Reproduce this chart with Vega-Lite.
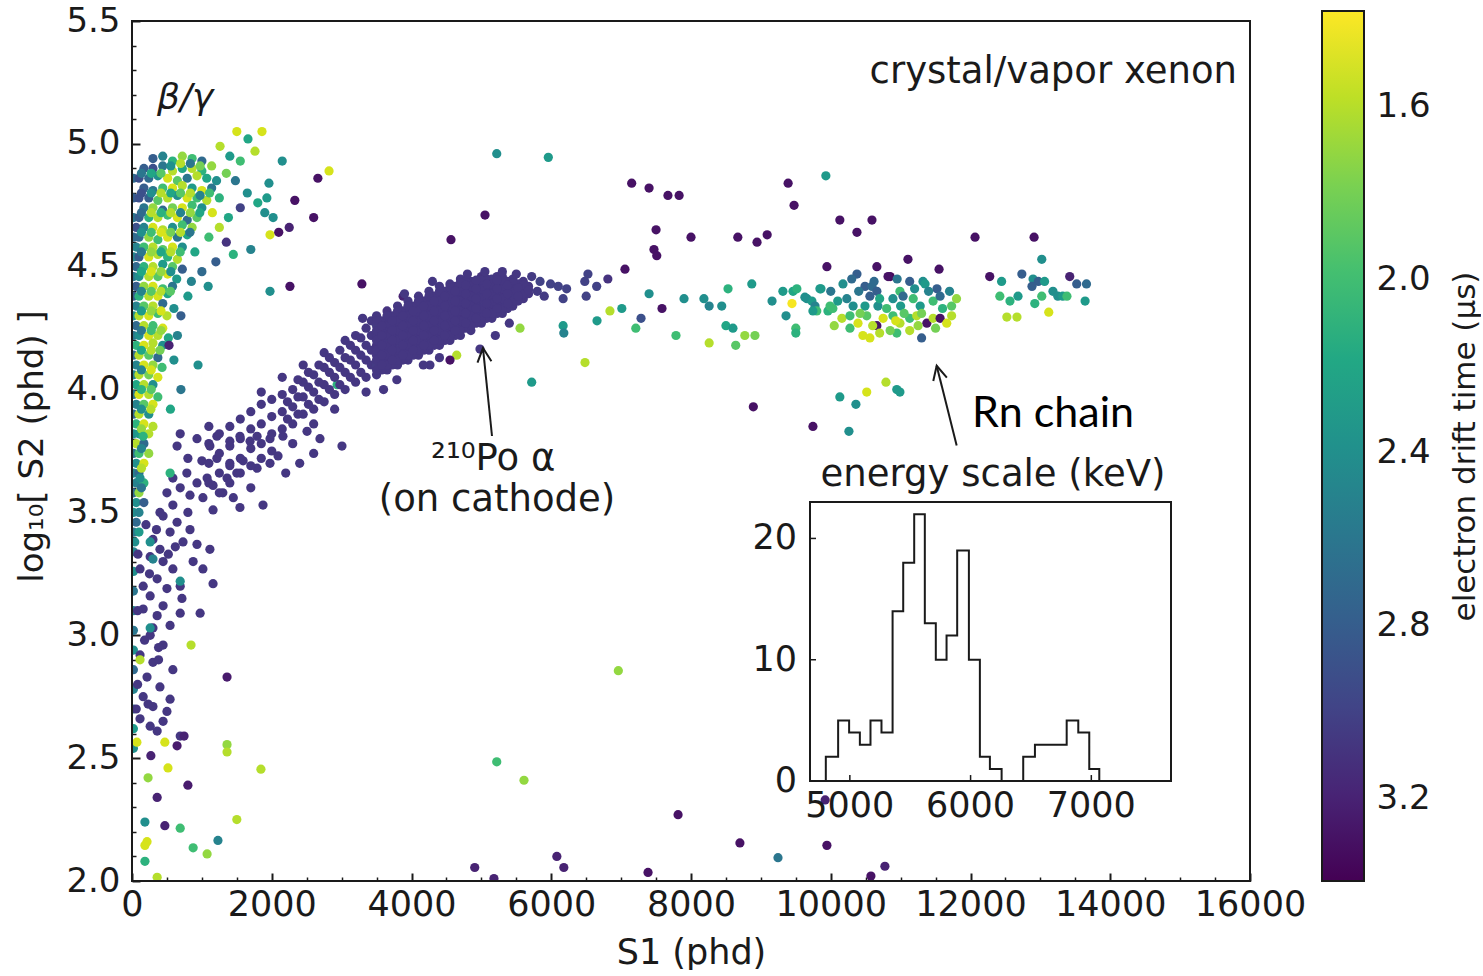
{
"$schema":"https://vega.github.io/schema/vega-lite/v6.json",
"padding":{"left":15,"top":4,"right":0,"bottom":0},
"config":{"view":{"stroke":null},"font":"DejaVu Sans",
"axis":{"grid":false,"domain":false,"labelFont":"DejaVu Sans","titleFont":"DejaVu Sans","labelColor":"#1a1a1a","titleColor":"#1a1a1a","tickColor":"#1a1a1a","titleFontWeight":"normal"}},
"datasets":{
"arrows":[{"name":"po","x":5152,"y":3.811,"hx":5023,"hy":4.169},{"name":"rn","x":11802,"y":3.772,"hx":11516,"hy":4.097}],
"ixt":[{"v":5000},{"v":6000},{"v":7000}],
"iyt":[{"v":0},{"v":10},{"v":20}],
"hist":[{"k":0,"e":4801,"n":0},{"k":1,"e":4801,"n":2},{"k":2,"e":4903,"n":5},{"k":3,"e":4994,"n":4},{"k":4,"e":5083,"n":3},{"k":5,"e":5171,"n":5},{"k":6,"e":5262,"n":4},{"k":7,"e":5354,"n":14},{"k":8,"e":5442,"n":18},{"k":9,"e":5533,"n":22},{"k":10,"e":5621,"n":13},{"k":11,"e":5712,"n":10},{"k":12,"e":5801,"n":12},{"k":13,"e":5889,"n":19},{"k":14,"e":5986,"n":10},{"k":15,"e":6077,"n":2},{"k":16,"e":6160,"n":1},{"k":17,"e":6257,"n":0},{"k":18,"e":6436,"n":2},{"k":19,"e":6533,"n":3},{"k":20,"e":6796,"n":5},{"k":21,"e":6892,"n":4},{"k":22,"e":6983,"n":1},{"k":23,"e":7066,"n":0}],
"pts":[
{"s1":20,"s2":4.86,"t":2.7},{"s1":20,"s2":4.78,"t":2.8},{"s1":20,"s2":4.70,"t":2.6},{"s1":20,"s2":4.62,"t":2.7},{"s1":20,"s2":4.54,"t":2.5},{"s1":20,"s2":4.46,"t":2.6},{"s1":20,"s2":4.38,"t":2.8},{"s1":20,"s2":4.30,"t":2.4},{"s1":20,"s2":4.22,"t":2.6},{"s1":20,"s2":4.14,"t":2.7},{"s1":20,"s2":4.06,"t":2.5},{"s1":20,"s2":3.98,"t":2.6},{"s1":20,"s2":3.90,"t":2.7},{"s1":20,"s2":3.82,"t":2.4},{"s1":20,"s2":3.74,"t":2.6},{"s1":20,"s2":3.66,"t":2.5},{"s1":20,"s2":3.58,"t":2.7},{"s1":20,"s2":3.50,"t":2.4},{"s1":20,"s2":3.42,"t":2.6},{"s1":20,"s2":3.34,"t":2.5},{"s1":20,"s2":3.26,"t":2.4},{"s1":20,"s2":3.18,"t":2.6},{"s1":20,"s2":3.10,"t":2.5},{"s1":20,"s2":3.02,"t":2.6},{"s1":20,"s2":2.94,"t":2.4},{"s1":20,"s2":2.86,"t":2.7},{"s1":20,"s2":2.78,"t":2.5},{"s1":20,"s2":2.70,"t":2.6},{"s1":20,"s2":2.62,"t":2.3},{"s1":20,"s2":2.54,"t":2.4},
{"s1":300,"s2":4.94,"t":2.8},{"s1":440,"s2":4.95,"t":2.5},{"s1":580,"s2":4.93,"t":2.1},{"s1":720,"s2":4.95,"t":1.7},{"s1":860,"s2":4.94,"t":2.0},{"s1":1000,"s2":4.93,"t":2.7},
{"s1":170,"s2":4.90,"t":2.8},{"s1":300,"s2":4.90,"t":2.9},{"s1":440,"s2":4.91,"t":2.6},{"s1":580,"s2":4.89,"t":1.6},{"s1":720,"s2":4.90,"t":2.2},{"s1":860,"s2":4.90,"t":1.6},{"s1":1000,"s2":4.89,"t":2.1},{"s1":1140,"s2":4.91,"t":1.7},
{"s1":100,"s2":4.86,"t":2.9},{"s1":240,"s2":4.86,"t":2.7},{"s1":370,"s2":4.87,"t":2.4},{"s1":510,"s2":4.86,"t":1.5},{"s1":650,"s2":4.85,"t":1.9},{"s1":790,"s2":4.86,"t":2.6},{"s1":930,"s2":4.87,"t":1.6},{"s1":1070,"s2":4.86,"t":2.2},{"s1":1210,"s2":4.85,"t":2.4},
{"s1":170,"s2":4.82,"t":2.8},{"s1":300,"s2":4.81,"t":2.6},{"s1":440,"s2":4.82,"t":2.0},{"s1":580,"s2":4.82,"t":1.5},{"s1":720,"s2":4.83,"t":1.6},{"s1":860,"s2":4.82,"t":2.3},{"s1":1000,"s2":4.81,"t":1.5},{"s1":1140,"s2":4.82,"t":2.6},
{"s1":100,"s2":4.78,"t":2.9},{"s1":240,"s2":4.78,"t":2.8},{"s1":370,"s2":4.77,"t":1.9},{"s1":510,"s2":4.78,"t":1.6},{"s1":650,"s2":4.79,"t":2.4},{"s1":790,"s2":4.78,"t":1.5},{"s1":930,"s2":4.78,"t":2.0},{"s1":1070,"s2":4.77,"t":1.6},{"s1":1250,"s2":4.78,"t":2.1},
{"s1":170,"s2":4.74,"t":2.6},{"s1":300,"s2":4.74,"t":1.7},{"s1":440,"s2":4.73,"t":2.7},{"s1":580,"s2":4.74,"t":1.8},{"s1":720,"s2":4.74,"t":1.5},{"s1":860,"s2":4.75,"t":2.0},{"s1":1000,"s2":4.74,"t":2.4},
{"s1":100,"s2":4.70,"t":2.8},{"s1":240,"s2":4.70,"t":2.1},{"s1":370,"s2":4.70,"t":1.6},{"s1":510,"s2":4.71,"t":2.0},{"s1":650,"s2":4.70,"t":1.5},{"s1":790,"s2":4.69,"t":2.7},{"s1":930,"s2":4.70,"t":1.9},
{"s1":60,"s2":4.66,"t":2.9},{"s1":170,"s2":4.66,"t":2.5},{"s1":300,"s2":4.66,"t":1.5},{"s1":440,"s2":4.65,"t":1.6},{"s1":580,"s2":4.66,"t":2.4},{"s1":720,"s2":4.67,"t":2.0},{"s1":860,"s2":4.66,"t":1.7},
{"s1":100,"s2":4.62,"t":2.7},{"s1":240,"s2":4.62,"t":1.7},{"s1":370,"s2":4.61,"t":2.0},{"s1":510,"s2":4.62,"t":1.5},{"s1":650,"s2":4.62,"t":2.6},{"s1":790,"s2":4.63,"t":2.2},
{"s1":60,"s2":4.58,"t":2.5},{"s1":170,"s2":4.58,"t":2.0},{"s1":300,"s2":4.58,"t":1.6},{"s1":440,"s2":4.57,"t":1.9},{"s1":580,"s2":4.58,"t":1.5},{"s1":720,"s2":4.58,"t":2.4},
{"s1":100,"s2":4.54,"t":2.8},{"s1":240,"s2":4.54,"t":1.5},{"s1":370,"s2":4.55,"t":1.6},{"s1":510,"s2":4.54,"t":2.1},{"s1":650,"s2":4.53,"t":1.6},
{"s1":60,"s2":4.50,"t":2.7},{"s1":170,"s2":4.50,"t":2.1},{"s1":300,"s2":4.50,"t":1.6},{"s1":440,"s2":4.51,"t":2.3},{"s1":580,"s2":4.50,"t":1.9},{"s1":720,"s2":4.49,"t":2.8},
{"s1":100,"s2":4.46,"t":2.4},{"s1":240,"s2":4.46,"t":1.6},{"s1":370,"s2":4.46,"t":1.9},{"s1":510,"s2":4.47,"t":1.5},{"s1":640,"s2":4.45,"t":2.3},
{"s1":60,"s2":4.42,"t":2.8},{"s1":170,"s2":4.42,"t":1.7},{"s1":300,"s2":4.42,"t":1.5},{"s1":440,"s2":4.41,"t":2.0},{"s1":580,"s2":4.42,"t":2.6},
{"s1":100,"s2":4.38,"t":2.1},{"s1":240,"s2":4.38,"t":1.6},{"s1":370,"s2":4.38,"t":1.5},{"s1":510,"s2":4.39,"t":2.2},
{"s1":60,"s2":4.34,"t":2.5},{"s1":170,"s2":4.34,"t":1.9},{"s1":300,"s2":4.34,"t":1.6},{"s1":440,"s2":4.35,"t":2.7},{"s1":600,"s2":4.33,"t":2.4},
{"s1":100,"s2":4.30,"t":1.6},{"s1":240,"s2":4.30,"t":1.5},{"s1":370,"s2":4.31,"t":2.0},{"s1":500,"s2":4.30,"t":1.6},
{"s1":60,"s2":4.26,"t":2.7},{"s1":170,"s2":4.26,"t":1.6},{"s1":300,"s2":4.26,"t":2.0},{"s1":440,"s2":4.25,"t":1.5},
{"s1":100,"s2":4.22,"t":2.4},{"s1":240,"s2":4.22,"t":1.5},{"s1":370,"s2":4.22,"t":1.6},{"s1":520,"s2":4.21,"t":2.2},
{"s1":60,"s2":4.18,"t":2.1},{"s1":170,"s2":4.18,"t":1.5},{"s1":300,"s2":4.19,"t":1.6},{"s1":440,"s2":4.18,"t":2.4},
{"s1":100,"s2":4.14,"t":1.6},{"s1":240,"s2":4.14,"t":1.9},{"s1":370,"s2":4.13,"t":2.7},
{"s1":60,"s2":4.10,"t":2.5},{"s1":170,"s2":4.10,"t":1.5},{"s1":300,"s2":4.10,"t":1.7},{"s1":430,"s2":4.09,"t":2.0},
{"s1":100,"s2":4.06,"t":1.6},{"s1":240,"s2":4.06,"t":1.8},{"s1":370,"s2":4.05,"t":1.5},
{"s1":60,"s2":4.02,"t":2.2},{"s1":170,"s2":4.02,"t":1.6},{"s1":300,"s2":4.02,"t":2.4},
{"s1":100,"s2":3.98,"t":1.5},{"s1":240,"s2":3.98,"t":1.6},{"s1":370,"s2":3.97,"t":2.0},
{"s1":60,"s2":3.94,"t":2.5},{"s1":170,"s2":3.94,"t":1.9},{"s1":300,"s2":3.94,"t":1.5},
{"s1":100,"s2":3.90,"t":1.6},{"s1":240,"s2":3.90,"t":2.4},
{"s1":60,"s2":3.86,"t":2.1},{"s1":170,"s2":3.86,"t":1.5},{"s1":300,"s2":3.85,"t":1.6},
{"s1":100,"s2":3.82,"t":2.3},{"s1":240,"s2":3.82,"t":1.6},
{"s1":60,"s2":3.78,"t":1.6},{"s1":170,"s2":3.78,"t":2.7},
{"s1":100,"s2":3.74,"t":2.0},{"s1":240,"s2":3.74,"t":1.7},
{"s1":60,"s2":3.70,"t":2.4},{"s1":170,"s2":3.70,"t":1.5},
{"s1":100,"s2":3.66,"t":2.7},{"s1":60,"s2":3.62,"t":2.5},{"s1":170,"s2":3.62,"t":2.1},{"s1":100,"s2":3.58,"t":1.7},{"s1":60,"s2":3.54,"t":2.4},{"s1":170,"s2":3.54,"t":2.8},{"s1":100,"s2":3.50,"t":2.5},{"s1":60,"s2":3.46,"t":2.7},{"s1":100,"s2":3.42,"t":2.3},{"s1":40,"s2":3.38,"t":2.4},
{"s1":135,"s2":4.88,"t":2.6},{"s1":275,"s2":4.88,"t":2.2},{"s1":415,"s2":4.88,"t":1.9},{"s1":555,"s2":4.91,"t":2.4},{"s1":695,"s2":4.92,"t":1.6},{"s1":835,"s2":4.92,"t":2.6},{"s1":975,"s2":4.91,"t":1.8},
{"s1":135,"s2":4.80,"t":2.9},{"s1":275,"s2":4.80,"t":2.4},{"s1":415,"s2":4.80,"t":1.6},{"s1":555,"s2":4.80,"t":2.2},{"s1":695,"s2":4.80,"t":1.9},{"s1":835,"s2":4.80,"t":1.6},{"s1":975,"s2":4.79,"t":2.5},{"s1":1110,"s2":4.80,"t":2.0},
{"s1":135,"s2":4.72,"t":2.7},{"s1":275,"s2":4.72,"t":1.6},{"s1":415,"s2":4.72,"t":2.1},{"s1":555,"s2":4.72,"t":1.6},{"s1":695,"s2":4.72,"t":2.5},{"s1":835,"s2":4.72,"t":1.7},{"s1":970,"s2":4.72,"t":2.2},
{"s1":135,"s2":4.64,"t":2.4},{"s1":275,"s2":4.64,"t":2.0},{"s1":415,"s2":4.64,"t":1.5},{"s1":555,"s2":4.64,"t":1.8},{"s1":695,"s2":4.64,"t":1.6},{"s1":830,"s2":4.64,"t":2.6},
{"s1":135,"s2":4.56,"t":2.6},{"s1":275,"s2":4.56,"t":1.7},{"s1":415,"s2":4.56,"t":2.2},{"s1":555,"s2":4.56,"t":1.6},{"s1":690,"s2":4.56,"t":2.0},
{"s1":135,"s2":4.48,"t":2.2},{"s1":275,"s2":4.48,"t":1.5},{"s1":415,"s2":4.48,"t":1.7},{"s1":555,"s2":4.48,"t":2.4},
{"s1":135,"s2":4.40,"t":2.5},{"s1":275,"s2":4.40,"t":1.9},{"s1":415,"s2":4.40,"t":1.6},{"s1":550,"s2":4.40,"t":1.9},
{"s1":135,"s2":4.32,"t":2.3},{"s1":275,"s2":4.32,"t":1.7},{"s1":415,"s2":4.32,"t":1.5},
{"s1":135,"s2":4.24,"t":2.6},{"s1":275,"s2":4.24,"t":2.0},{"s1":415,"s2":4.24,"t":1.7},
{"s1":135,"s2":4.16,"t":2.2},{"s1":275,"s2":4.16,"t":1.6},{"s1":400,"s2":4.16,"t":1.8},
{"s1":135,"s2":4.08,"t":2.5},{"s1":275,"s2":4.08,"t":1.5},{"s1":135,"s2":4.00,"t":2.1},{"s1":275,"s2":4.00,"t":1.9},{"s1":135,"s2":3.92,"t":2.4},{"s1":270,"s2":3.92,"t":1.6},{"s1":135,"s2":3.84,"t":1.7},{"s1":135,"s2":3.76,"t":2.5},{"s1":135,"s2":3.68,"t":1.6},{"s1":135,"s2":3.60,"t":2.6},
{"s1":1260,"s2":4.99,"t":1.6},{"s1":1500,"s2":5.05,"t":1.5},{"s1":1860,"s2":5.05,"t":1.5},{"s1":1660,"s2":5.02,"t":2.2},{"s1":1760,"s2":4.97,"t":1.6},{"s1":1400,"s2":4.95,"t":2.3},{"s1":1550,"s2":4.93,"t":2.0},{"s1":1350,"s2":4.88,"t":1.8},{"s1":1480,"s2":4.85,"t":2.6},{"s1":1650,"s2":4.80,"t":2.4},{"s1":1800,"s2":4.76,"t":2.2},{"s1":1550,"s2":4.74,"t":3.0},{"s1":1380,"s2":4.70,"t":2.2},{"s1":1250,"s2":4.66,"t":1.6},{"s1":1150,"s2":4.72,"t":1.5},{"s1":1100,"s2":4.62,"t":2.0},{"s1":1350,"s2":4.60,"t":3.1},{"s1":1450,"s2":4.55,"t":2.1},{"s1":1700,"s2":4.57,"t":2.5},{"s1":1200,"s2":4.52,"t":2.8},{"s1":900,"s2":4.56,"t":2.2},{"s1":1000,"s2":4.48,"t":2.7},{"s1":850,"s2":4.44,"t":2.5},{"s1":800,"s2":4.38,"t":2.3},{"s1":700,"s2":4.30,"t":2.8},{"s1":650,"s2":4.22,"t":2.5},{"s1":600,"s2":4.12,"t":2.4},{"s1":700,"s2":4.00,"t":2.6},{"s1":550,"s2":3.92,"t":2.2},
{"s1":2660,"s2":4.86,"t":3.3},{"s1":2820,"s2":4.89,"t":1.5},{"s1":2330,"s2":4.77,"t":3.3},{"s1":2600,"s2":4.70,"t":3.3},{"s1":2150,"s2":4.93,"t":2.4},{"s1":1960,"s2":4.84,"t":2.4},{"s1":1975,"s2":4.63,"t":1.5},{"s1":2100,"s2":4.64,"t":3.3},{"s1":2250,"s2":4.66,"t":3.2},{"s1":2020,"s2":4.70,"t":2.4},{"s1":1930,"s2":4.78,"t":2.3},{"s1":1900,"s2":4.72,"t":2.4},{"s1":2260,"s2":4.42,"t":3.3},{"s1":1975,"s2":4.40,"t":2.4},{"s1":3290,"s2":4.43,"t":3.3},{"s1":4565,"s2":4.61,"t":3.3},{"s1":5052,"s2":4.71,"t":3.3},{"s1":5220,"s2":4.96,"t":2.4},{"s1":5958,"s2":4.945,"t":2.3},{"s1":945,"s2":4.10,"t":2.4},{"s1":530,"s2":4.18,"t":3.2},{"s1":3880,"s2":4.38,"t":3.2},{"s1":1090,"s2":4.42,"t":2.4},{"s1":2935,"s2":4.02,"t":2.1},
{"s1":690,"s2":3.82,"t":3.07},{"s1":645,"s2":3.77,"t":3.07},{"s1":930,"s2":3.80,"t":3.07},{"s1":1115,"s2":3.77,"t":3.07},{"s1":1215,"s2":3.81,"t":3.07},{"s1":1400,"s2":3.79,"t":3.07},{"s1":1545,"s2":3.81,"t":3.07},{"s1":1690,"s2":3.79,"t":3.07},{"s1":1790,"s2":3.81,"t":3.07},{"s1":1975,"s2":3.80,"t":3.07},{"s1":2160,"s2":3.81,"t":3.07},{"s1":2300,"s2":3.78,"t":3.07},{"s1":2505,"s2":3.83,"t":3.07},{"s1":2690,"s2":3.80,"t":3.07},{"s1":3005,"s2":3.77,"t":3.07},
{"s1":800,"s2":3.72,"t":3.07},{"s1":1000,"s2":3.71,"t":3.07},{"s1":1215,"s2":3.72,"t":3.07},{"s1":1400,"s2":3.69,"t":3.07},{"s1":1590,"s2":3.71,"t":3.07},{"s1":1790,"s2":3.68,"t":3.07},{"s1":1975,"s2":3.70,"t":3.07},{"s1":2090,"s2":3.73,"t":3.07},
{"s1":585,"s2":3.64,"t":3.07},{"s1":785,"s2":3.66,"t":3.07},{"s1":930,"s2":3.62,"t":3.07},{"s1":1075,"s2":3.64,"t":3.07},{"s1":1160,"s2":3.61,"t":3.07},{"s1":1360,"s2":3.64,"t":3.07},{"s1":1500,"s2":3.66,"t":3.07},{"s1":1545,"s2":3.52,"t":3.07},{"s1":1875,"s2":3.53,"t":3.07},{"s1":1015,"s2":3.56,"t":3.07},{"s1":1160,"s2":3.51,"t":3.07},{"s1":830,"s2":3.57,"t":3.07},{"s1":690,"s2":3.60,"t":3.07},{"s1":500,"s2":3.58,"t":3.07},{"s1":585,"s2":3.53,"t":3.07},{"s1":400,"s2":3.50,"t":3.07},
{"s1":445,"s2":3.485,"t":3.07},{"s1":645,"s2":3.46,"t":3.07},{"s1":830,"s2":3.43,"t":3.07},{"s1":545,"s2":3.42,"t":3.07},{"s1":730,"s2":3.38,"t":3.07},{"s1":930,"s2":3.37,"t":3.07},{"s1":1115,"s2":3.35,"t":3.07},{"s1":1160,"s2":3.21,"t":3.07},{"s1":975,"s2":3.09,"t":3.07},{"s1":690,"s2":3.20,"t":3.07},{"s1":445,"s2":3.30,"t":3.07},{"s1":260,"s2":3.32,"t":3.07},{"s1":585,"s2":3.27,"t":3.07},{"s1":360,"s2":3.23,"t":3.07},{"s1":500,"s2":3.19,"t":3.07},{"s1":875,"s2":3.30,"t":3.07},{"s1":715,"s2":3.15,"t":3.07},{"s1":445,"s2":3.12,"t":3.07},{"s1":260,"s2":3.16,"t":3.07},{"s1":160,"s2":3.20,"t":3.07},{"s1":115,"s2":3.27,"t":3.07},{"s1":300,"s2":3.39,"t":3.07},{"s1":85,"s2":3.33,"t":3.07},{"s1":400,"s2":3.35,"t":3.07},{"s1":1015,"s2":3.27,"t":3.07},
{"s1":160,"s2":3.107,"t":3.07},{"s1":360,"s2":3.08,"t":3.07},{"s1":545,"s2":3.04,"t":3.07},{"s1":260,"s2":3.0,"t":3.07},{"s1":445,"s2":2.96,"t":3.07},{"s1":115,"s2":2.92,"t":3.07},{"s1":300,"s2":2.89,"t":3.07},{"s1":585,"s2":2.86,"t":3.07},{"s1":215,"s2":2.83,"t":3.07},{"s1":400,"s2":2.79,"t":3.07},{"s1":160,"s2":2.75,"t":3.07},{"s1":300,"s2":2.71,"t":3.07},{"s1":500,"s2":2.69,"t":3.07},{"s1":115,"s2":2.66,"t":3.07},{"s1":260,"s2":2.63,"t":3.07},{"s1":445,"s2":2.65,"t":3.07},{"s1":690,"s2":2.59,"t":3.07},{"s1":360,"s2":2.61,"t":3.07},{"s1":545,"s2":2.74,"t":3.07},{"s1":690,"s2":3.09,"t":3.07},{"s1":300,"s2":3.03,"t":3.07},
{"s1":200,"s2":3.45,"t":3.07},{"s1":350,"s2":3.43,"t":3.07},{"s1":250,"s2":3.25,"t":3.07},{"s1":80,"s2":3.10,"t":3.07},{"s1":180,"s2":2.98,"t":3.07},{"s1":380,"s2":2.90,"t":3.07},{"s1":80,"s2":2.80,"t":3.07},{"s1":230,"s2":2.72,"t":3.07},{"s1":60,"s2":2.70,"t":3.07},{"s1":380,"s2":2.95,"t":3.07},{"s1":520,"s2":3.33,"t":3.07},{"s1":620,"s2":3.36,"t":3.07},{"s1":800,"s2":3.50,"t":3.07},{"s1":1300,"s2":3.58,"t":3.07},{"s1":1700,"s2":3.60,"t":3.07},{"s1":1450,"s2":3.56,"t":3.07},{"s1":2400,"s2":3.70,"t":3.07},{"s1":2600,"s2":3.74,"t":3.07},{"s1":2200,"s2":3.66,"t":3.07},
{"s1":1360,"s2":2.83,"t":3.25},{"s1":645,"s2":2.55,"t":3.25},{"s1":745,"s2":2.59,"t":3.2},{"s1":270,"s2":2.51,"t":3.2},{"s1":800,"s2":2.39,"t":3.25},{"s1":360,"s2":2.34,"t":3.2},{"s1":470,"s2":2.225,"t":3.2},
{"s1":160,"s2":3.81,"t":2.1},{"s1":115,"s2":3.64,"t":2.4},{"s1":260,"s2":3.38,"t":2.4},{"s1":300,"s2":3.31,"t":2.5},{"s1":260,"s2":3.03,"t":2.4},{"s1":115,"s2":2.90,"t":1.6},{"s1":70,"s2":2.565,"t":1.5},{"s1":690,"s2":3.22,"t":2.4},{"s1":545,"s2":3.66,"t":2.1},
{"s1":1100,"s2":3.62,"t":3.07},{"s1":1100,"s2":3.70,"t":3.07},{"s1":1100,"s2":3.78,"t":3.07},{"s1":1100,"s2":3.85,"t":3.07},
{"s1":1250,"s2":3.66,"t":3.07},{"s1":1250,"s2":3.74,"t":3.07},{"s1":1250,"s2":3.82,"t":3.07},{"s1":1250,"s2":3.58,"t":3.07},
{"s1":1400,"s2":3.70,"t":3.07},{"s1":1400,"s2":3.77,"t":3.07},{"s1":1400,"s2":3.85,"t":3.07},{"s1":1400,"s2":3.62,"t":3.07},
{"s1":1550,"s2":3.72,"t":3.07},{"s1":1550,"s2":3.80,"t":3.07},{"s1":1550,"s2":3.88,"t":3.07},{"s1":1550,"s2":3.66,"t":3.07},
{"s1":1700,"s2":3.76,"t":3.07},{"s1":1700,"s2":3.84,"t":3.07},{"s1":1700,"s2":3.91,"t":3.07},{"s1":1700,"s2":3.69,"t":3.07},
{"s1":1850,"s2":3.78,"t":3.07},{"s1":1850,"s2":3.86,"t":3.07},{"s1":1850,"s2":3.94,"t":3.07},{"s1":1850,"s2":3.72,"t":3.07},{"s1":1850,"s2":3.99,"t":3.07},
{"s1":2000,"s2":3.82,"t":3.07},{"s1":2000,"s2":3.89,"t":3.07},{"s1":2000,"s2":3.96,"t":3.07},{"s1":2000,"s2":3.75,"t":3.07},
{"s1":2150,"s2":3.84,"t":3.07},{"s1":2150,"s2":3.91,"t":3.07},{"s1":2150,"s2":3.98,"t":3.07},{"s1":2150,"s2":4.05,"t":3.07},
{"s1":2300,"s2":3.86,"t":3.07},{"s1":2300,"s2":3.93,"t":3.07},{"s1":2300,"s2":4.00,"t":3.07},
{"s1":2450,"s2":3.90,"t":3.07},{"s1":2450,"s2":3.97,"t":3.07},{"s1":2450,"s2":4.03,"t":3.07},{"s1":2450,"s2":4.10,"t":3.07},
{"s1":2600,"s2":3.92,"t":3.07},{"s1":2600,"s2":3.99,"t":3.07},{"s1":2600,"s2":4.06,"t":3.07},{"s1":2600,"s2":3.86,"t":3.07},
{"s1":2750,"s2":3.95,"t":3.07},{"s1":2750,"s2":4.02,"t":3.07},{"s1":2750,"s2":4.09,"t":3.07},{"s1":2750,"s2":4.15,"t":3.07},
{"s1":2900,"s2":3.98,"t":3.07},{"s1":2900,"s2":4.05,"t":3.07},{"s1":2900,"s2":4.11,"t":3.07},{"s1":2900,"s2":3.92,"t":3.07},
{"s1":3050,"s2":4.00,"t":3.07},{"s1":3050,"s2":4.07,"t":3.07},{"s1":3050,"s2":4.13,"t":3.07},{"s1":3050,"s2":4.20,"t":3.07},
{"s1":3200,"s2":4.03,"t":3.07},{"s1":3200,"s2":4.10,"t":3.07},{"s1":3200,"s2":4.16,"t":3.07},{"s1":3200,"s2":4.22,"t":3.07},
{"s1":3350,"s2":4.05,"t":3.07},{"s1":3350,"s2":4.12,"t":3.07},{"s1":3350,"s2":4.18,"t":3.07},{"s1":3350,"s2":4.25,"t":3.07},{"s1":3350,"s2":3.99,"t":3.07},
{"s1":2225,"s2":3.88,"t":3.07},{"s1":2225,"s2":3.95,"t":3.07},{"s1":2375,"s2":3.90,"t":3.07},{"s1":2375,"s2":3.97,"t":3.07},{"s1":2375,"s2":4.04,"t":3.07},{"s1":2525,"s2":3.94,"t":3.07},{"s1":2525,"s2":4.01,"t":3.07},{"s1":2525,"s2":4.07,"t":3.07},{"s1":2675,"s2":3.96,"t":3.07},{"s1":2675,"s2":4.03,"t":3.07},{"s1":2675,"s2":4.10,"t":3.07},{"s1":2825,"s2":4.00,"t":3.07},{"s1":2825,"s2":4.07,"t":3.07},{"s1":2825,"s2":4.13,"t":3.07},{"s1":2975,"s2":4.02,"t":3.07},{"s1":2975,"s2":4.09,"t":3.07},{"s1":2975,"s2":4.16,"t":3.07},{"s1":3125,"s2":4.05,"t":3.07},{"s1":3125,"s2":4.12,"t":3.07},{"s1":3125,"s2":4.18,"t":3.07},{"s1":3275,"s2":4.07,"t":3.07},{"s1":3275,"s2":4.14,"t":3.07},{"s1":3275,"s2":4.21,"t":3.07},{"s1":3425,"s2":4.10,"t":3.07},{"s1":3425,"s2":4.16,"t":3.07},{"s1":3425,"s2":4.22,"t":3.07},{"s1":3425,"s2":4.28,"t":3.07},
{"s1":3500,"s2":4.06,"t":3.07},{"s1":3500,"s2":4.10,"t":3.05},{"s1":3500,"s2":4.14,"t":3.07},{"s1":3500,"s2":4.18,"t":3.09},{"s1":3500,"s2":4.22,"t":3.07},{"s1":3500,"s2":4.26,"t":3.05},{"s1":3500,"s2":4.30,"t":3.07},
{"s1":3650,"s2":4.08,"t":3.07},{"s1":3650,"s2":4.12,"t":3.09},{"s1":3650,"s2":4.16,"t":3.07},{"s1":3650,"s2":4.20,"t":3.05},{"s1":3650,"s2":4.24,"t":3.07},{"s1":3650,"s2":4.28,"t":3.07},{"s1":3650,"s2":4.32,"t":3.09},
{"s1":3800,"s2":4.10,"t":3.07},{"s1":3800,"s2":4.14,"t":3.07},{"s1":3800,"s2":4.18,"t":3.05},{"s1":3800,"s2":4.22,"t":3.07},{"s1":3800,"s2":4.26,"t":3.09},{"s1":3800,"s2":4.30,"t":3.07},{"s1":3800,"s2":4.34,"t":3.07},
{"s1":3950,"s2":4.12,"t":3.07},{"s1":3950,"s2":4.16,"t":3.09},{"s1":3950,"s2":4.20,"t":3.07},{"s1":3950,"s2":4.24,"t":3.07},{"s1":3950,"s2":4.28,"t":3.05},{"s1":3950,"s2":4.32,"t":3.07},{"s1":3950,"s2":4.36,"t":3.07},
{"s1":4100,"s2":4.14,"t":3.07},{"s1":4100,"s2":4.18,"t":3.07},{"s1":4100,"s2":4.22,"t":3.09},{"s1":4100,"s2":4.26,"t":3.07},{"s1":4100,"s2":4.30,"t":3.07},{"s1":4100,"s2":4.34,"t":3.05},{"s1":4100,"s2":4.38,"t":3.07},
{"s1":4250,"s2":4.16,"t":3.07},{"s1":4250,"s2":4.20,"t":3.05},{"s1":4250,"s2":4.24,"t":3.07},{"s1":4250,"s2":4.28,"t":3.07},{"s1":4250,"s2":4.32,"t":3.09},{"s1":4250,"s2":4.36,"t":3.07},{"s1":4250,"s2":4.40,"t":3.07},
{"s1":4400,"s2":4.18,"t":3.07},{"s1":4400,"s2":4.22,"t":3.07},{"s1":4400,"s2":4.26,"t":3.05},{"s1":4400,"s2":4.30,"t":3.07},{"s1":4400,"s2":4.34,"t":3.07},{"s1":4400,"s2":4.38,"t":3.09},{"s1":4400,"s2":4.42,"t":3.07},
{"s1":4550,"s2":4.20,"t":3.07},{"s1":4550,"s2":4.24,"t":3.09},{"s1":4550,"s2":4.28,"t":3.07},{"s1":4550,"s2":4.32,"t":3.07},{"s1":4550,"s2":4.36,"t":3.05},{"s1":4550,"s2":4.40,"t":3.07},{"s1":4550,"s2":4.43,"t":3.07},
{"s1":4700,"s2":4.22,"t":3.07},{"s1":4700,"s2":4.26,"t":3.07},{"s1":4700,"s2":4.30,"t":3.09},{"s1":4700,"s2":4.34,"t":3.07},{"s1":4700,"s2":4.38,"t":3.07},{"s1":4700,"s2":4.42,"t":3.05},{"s1":4700,"s2":4.45,"t":3.07},
{"s1":4850,"s2":4.24,"t":3.07},{"s1":4850,"s2":4.28,"t":3.05},{"s1":4850,"s2":4.32,"t":3.07},{"s1":4850,"s2":4.36,"t":3.07},{"s1":4850,"s2":4.40,"t":3.09},{"s1":4850,"s2":4.44,"t":3.07},
{"s1":5000,"s2":4.27,"t":3.07},{"s1":5000,"s2":4.31,"t":3.07},{"s1":5000,"s2":4.35,"t":3.05},{"s1":5000,"s2":4.39,"t":3.07},{"s1":5000,"s2":4.43,"t":3.07},{"s1":5000,"s2":4.46,"t":3.09},
{"s1":5150,"s2":4.29,"t":3.07},{"s1":5150,"s2":4.33,"t":3.09},{"s1":5150,"s2":4.37,"t":3.07},{"s1":5150,"s2":4.41,"t":3.07},{"s1":5150,"s2":4.45,"t":3.05},
{"s1":5300,"s2":4.31,"t":3.07},{"s1":5300,"s2":4.35,"t":3.07},{"s1":5300,"s2":4.39,"t":3.09},{"s1":5300,"s2":4.43,"t":3.07},{"s1":5300,"s2":4.46,"t":3.07},
{"s1":5450,"s2":4.34,"t":3.07},{"s1":5450,"s2":4.38,"t":3.05},{"s1":5450,"s2":4.42,"t":3.07},{"s1":5450,"s2":4.45,"t":3.07},
{"s1":5600,"s2":4.37,"t":3.07},{"s1":5600,"s2":4.41,"t":3.09},{"s1":5600,"s2":4.44,"t":3.07},
{"s1":3575,"s2":4.08,"t":3.07},{"s1":3575,"s2":4.12,"t":3.07},{"s1":3575,"s2":4.16,"t":3.07},{"s1":3575,"s2":4.20,"t":3.07},{"s1":3575,"s2":4.24,"t":3.07},{"s1":3575,"s2":4.28,"t":3.07},
{"s1":3725,"s2":4.10,"t":3.07},{"s1":3725,"s2":4.14,"t":3.07},{"s1":3725,"s2":4.18,"t":3.07},{"s1":3725,"s2":4.22,"t":3.07},{"s1":3725,"s2":4.26,"t":3.07},{"s1":3725,"s2":4.30,"t":3.07},
{"s1":3875,"s2":4.12,"t":3.07},{"s1":3875,"s2":4.16,"t":3.07},{"s1":3875,"s2":4.20,"t":3.07},{"s1":3875,"s2":4.24,"t":3.07},{"s1":3875,"s2":4.28,"t":3.07},{"s1":3875,"s2":4.32,"t":3.07},
{"s1":4025,"s2":4.14,"t":3.07},{"s1":4025,"s2":4.18,"t":3.07},{"s1":4025,"s2":4.22,"t":3.07},{"s1":4025,"s2":4.26,"t":3.07},{"s1":4025,"s2":4.30,"t":3.07},{"s1":4025,"s2":4.34,"t":3.07},
{"s1":4175,"s2":4.16,"t":3.07},{"s1":4175,"s2":4.20,"t":3.07},{"s1":4175,"s2":4.24,"t":3.07},{"s1":4175,"s2":4.28,"t":3.07},{"s1":4175,"s2":4.32,"t":3.07},{"s1":4175,"s2":4.36,"t":3.07},
{"s1":4325,"s2":4.18,"t":3.07},{"s1":4325,"s2":4.22,"t":3.07},{"s1":4325,"s2":4.26,"t":3.07},{"s1":4325,"s2":4.30,"t":3.07},{"s1":4325,"s2":4.34,"t":3.07},{"s1":4325,"s2":4.38,"t":3.07},
{"s1":4475,"s2":4.20,"t":3.07},{"s1":4475,"s2":4.24,"t":3.07},{"s1":4475,"s2":4.28,"t":3.07},{"s1":4475,"s2":4.32,"t":3.07},{"s1":4475,"s2":4.36,"t":3.07},{"s1":4475,"s2":4.40,"t":3.07},
{"s1":4625,"s2":4.22,"t":3.07},{"s1":4625,"s2":4.26,"t":3.07},{"s1":4625,"s2":4.30,"t":3.07},{"s1":4625,"s2":4.34,"t":3.07},{"s1":4625,"s2":4.38,"t":3.07},{"s1":4625,"s2":4.42,"t":3.07},
{"s1":4775,"s2":4.25,"t":3.07},{"s1":4775,"s2":4.29,"t":3.07},{"s1":4775,"s2":4.33,"t":3.07},{"s1":4775,"s2":4.37,"t":3.07},{"s1":4775,"s2":4.41,"t":3.07},{"s1":4775,"s2":4.44,"t":3.07},
{"s1":4925,"s2":4.27,"t":3.07},{"s1":4925,"s2":4.31,"t":3.07},{"s1":4925,"s2":4.35,"t":3.07},{"s1":4925,"s2":4.39,"t":3.07},{"s1":4925,"s2":4.43,"t":3.07},
{"s1":5075,"s2":4.29,"t":3.07},{"s1":5075,"s2":4.33,"t":3.07},{"s1":5075,"s2":4.37,"t":3.07},{"s1":5075,"s2":4.41,"t":3.07},{"s1":5075,"s2":4.45,"t":3.07},
{"s1":5225,"s2":4.31,"t":3.07},{"s1":5225,"s2":4.35,"t":3.07},{"s1":5225,"s2":4.39,"t":3.07},{"s1":5225,"s2":4.43,"t":3.07},{"s1":5225,"s2":4.46,"t":3.07},
{"s1":5375,"s2":4.33,"t":3.07},{"s1":5375,"s2":4.37,"t":3.07},{"s1":5375,"s2":4.41,"t":3.07},{"s1":5375,"s2":4.44,"t":3.07},
{"s1":5525,"s2":4.36,"t":3.07},{"s1":5525,"s2":4.40,"t":3.07},{"s1":5525,"s2":4.43,"t":3.07},
{"s1":5675,"s2":4.39,"t":3.07},{"s1":5675,"s2":4.42,"t":3.07},
{"s1":3500,"s2":4.08,"t":3.07},{"s1":3500,"s2":4.12,"t":3.07},{"s1":3500,"s2":4.16,"t":3.07},{"s1":3500,"s2":4.20,"t":3.07},{"s1":3500,"s2":4.24,"t":3.07},{"s1":3500,"s2":4.28,"t":3.07},
{"s1":3650,"s2":4.10,"t":3.07},{"s1":3650,"s2":4.14,"t":3.07},{"s1":3650,"s2":4.18,"t":3.07},{"s1":3650,"s2":4.22,"t":3.07},{"s1":3650,"s2":4.26,"t":3.07},{"s1":3650,"s2":4.30,"t":3.07},
{"s1":3800,"s2":4.12,"t":3.07},{"s1":3800,"s2":4.16,"t":3.07},{"s1":3800,"s2":4.20,"t":3.07},{"s1":3800,"s2":4.24,"t":3.07},{"s1":3800,"s2":4.28,"t":3.07},{"s1":3800,"s2":4.32,"t":3.07},
{"s1":3950,"s2":4.14,"t":3.07},{"s1":3950,"s2":4.18,"t":3.07},{"s1":3950,"s2":4.22,"t":3.07},{"s1":3950,"s2":4.26,"t":3.07},{"s1":3950,"s2":4.30,"t":3.07},{"s1":3950,"s2":4.34,"t":3.07},
{"s1":4100,"s2":4.16,"t":3.07},{"s1":4100,"s2":4.20,"t":3.07},{"s1":4100,"s2":4.24,"t":3.07},{"s1":4100,"s2":4.28,"t":3.07},{"s1":4100,"s2":4.32,"t":3.07},{"s1":4100,"s2":4.36,"t":3.07},
{"s1":4250,"s2":4.18,"t":3.07},{"s1":4250,"s2":4.22,"t":3.07},{"s1":4250,"s2":4.26,"t":3.07},{"s1":4250,"s2":4.30,"t":3.07},{"s1":4250,"s2":4.34,"t":3.07},{"s1":4250,"s2":4.38,"t":3.07},
{"s1":4400,"s2":4.20,"t":3.07},{"s1":4400,"s2":4.24,"t":3.07},{"s1":4400,"s2":4.28,"t":3.07},{"s1":4400,"s2":4.32,"t":3.07},{"s1":4400,"s2":4.36,"t":3.07},{"s1":4400,"s2":4.40,"t":3.07},
{"s1":4550,"s2":4.22,"t":3.07},{"s1":4550,"s2":4.26,"t":3.07},{"s1":4550,"s2":4.30,"t":3.07},{"s1":4550,"s2":4.34,"t":3.07},{"s1":4550,"s2":4.38,"t":3.07},{"s1":4550,"s2":4.415,"t":3.07},
{"s1":4700,"s2":4.24,"t":3.07},{"s1":4700,"s2":4.28,"t":3.07},{"s1":4700,"s2":4.32,"t":3.07},{"s1":4700,"s2":4.36,"t":3.07},{"s1":4700,"s2":4.40,"t":3.07},{"s1":4700,"s2":4.435,"t":3.07},
{"s1":4850,"s2":4.26,"t":3.07},{"s1":4850,"s2":4.30,"t":3.07},{"s1":4850,"s2":4.34,"t":3.07},{"s1":4850,"s2":4.38,"t":3.07},{"s1":4850,"s2":4.42,"t":3.07},
{"s1":5000,"s2":4.29,"t":3.07},{"s1":5000,"s2":4.33,"t":3.07},{"s1":5000,"s2":4.37,"t":3.07},{"s1":5000,"s2":4.41,"t":3.07},{"s1":5000,"s2":4.445,"t":3.07},
{"s1":5150,"s2":4.31,"t":3.07},{"s1":5150,"s2":4.35,"t":3.07},{"s1":5150,"s2":4.39,"t":3.07},{"s1":5150,"s2":4.43,"t":3.07},
{"s1":5300,"s2":4.33,"t":3.07},{"s1":5300,"s2":4.37,"t":3.07},{"s1":5300,"s2":4.41,"t":3.07},{"s1":5300,"s2":4.445,"t":3.07},
{"s1":5450,"s2":4.36,"t":3.07},{"s1":5450,"s2":4.40,"t":3.07},{"s1":5450,"s2":4.435,"t":3.07},
{"s1":5600,"s2":4.39,"t":3.07},{"s1":5600,"s2":4.425,"t":3.07},
{"s1":3575,"s2":4.10,"t":3.07},{"s1":3575,"s2":4.14,"t":3.07},{"s1":3575,"s2":4.18,"t":3.07},{"s1":3575,"s2":4.22,"t":3.07},{"s1":3575,"s2":4.26,"t":3.07},
{"s1":3725,"s2":4.12,"t":3.07},{"s1":3725,"s2":4.16,"t":3.07},{"s1":3725,"s2":4.20,"t":3.07},{"s1":3725,"s2":4.24,"t":3.07},{"s1":3725,"s2":4.28,"t":3.07},
{"s1":3875,"s2":4.14,"t":3.07},{"s1":3875,"s2":4.18,"t":3.07},{"s1":3875,"s2":4.22,"t":3.07},{"s1":3875,"s2":4.26,"t":3.07},{"s1":3875,"s2":4.30,"t":3.07},
{"s1":4025,"s2":4.16,"t":3.07},{"s1":4025,"s2":4.20,"t":3.07},{"s1":4025,"s2":4.24,"t":3.07},{"s1":4025,"s2":4.28,"t":3.07},{"s1":4025,"s2":4.32,"t":3.07},
{"s1":4175,"s2":4.18,"t":3.07},{"s1":4175,"s2":4.22,"t":3.07},{"s1":4175,"s2":4.26,"t":3.07},{"s1":4175,"s2":4.30,"t":3.07},{"s1":4175,"s2":4.34,"t":3.07},
{"s1":4325,"s2":4.20,"t":3.07},{"s1":4325,"s2":4.24,"t":3.07},{"s1":4325,"s2":4.28,"t":3.07},{"s1":4325,"s2":4.32,"t":3.07},{"s1":4325,"s2":4.36,"t":3.07},
{"s1":4475,"s2":4.22,"t":3.07},{"s1":4475,"s2":4.26,"t":3.07},{"s1":4475,"s2":4.30,"t":3.07},{"s1":4475,"s2":4.34,"t":3.07},{"s1":4475,"s2":4.38,"t":3.07},
{"s1":4625,"s2":4.24,"t":3.07},{"s1":4625,"s2":4.28,"t":3.07},{"s1":4625,"s2":4.32,"t":3.07},{"s1":4625,"s2":4.36,"t":3.07},{"s1":4625,"s2":4.40,"t":3.07},
{"s1":4775,"s2":4.27,"t":3.07},{"s1":4775,"s2":4.31,"t":3.07},{"s1":4775,"s2":4.35,"t":3.07},{"s1":4775,"s2":4.39,"t":3.07},{"s1":4775,"s2":4.425,"t":3.07},
{"s1":4925,"s2":4.29,"t":3.07},{"s1":4925,"s2":4.33,"t":3.07},{"s1":4925,"s2":4.37,"t":3.07},{"s1":4925,"s2":4.41,"t":3.07},{"s1":4925,"s2":4.445,"t":3.07},
{"s1":5075,"s2":4.31,"t":3.07},{"s1":5075,"s2":4.35,"t":3.07},{"s1":5075,"s2":4.39,"t":3.07},{"s1":5075,"s2":4.43,"t":3.07},
{"s1":5225,"s2":4.33,"t":3.07},{"s1":5225,"s2":4.37,"t":3.07},{"s1":5225,"s2":4.41,"t":3.07},{"s1":5225,"s2":4.445,"t":3.07},
{"s1":5375,"s2":4.35,"t":3.07},{"s1":5375,"s2":4.39,"t":3.07},{"s1":5375,"s2":4.425,"t":3.07},
{"s1":5525,"s2":4.38,"t":3.07},{"s1":5525,"s2":4.415,"t":3.07},{"s1":5675,"s2":4.405,"t":3.07},
{"s1":4800,"s2":4.47,"t":3.07},{"s1":5050,"s2":4.48,"t":3.07},{"s1":5300,"s2":4.48,"t":3.07},{"s1":5500,"s2":4.47,"t":3.07},{"s1":4300,"s2":4.44,"t":3.07},{"s1":3900,"s2":4.39,"t":3.07},{"s1":3300,"s2":4.29,"t":3.07},
{"s1":4264,"s2":4.10,"t":3.07},{"s1":4980,"s2":4.165,"t":3.07},{"s1":3790,"s2":4.04,"t":3.07},{"s1":4647,"s2":4.14,"t":1.6},{"s1":4551,"s2":4.12,"t":3.3},{"s1":4169,"s2":4.10,"t":3.07},{"s1":3600,"s2":4.00,"t":3.07},{"s1":4400,"s2":4.13,"t":3.07},{"s1":5200,"s2":4.22,"t":3.07},{"s1":5400,"s2":4.27,"t":3.07},
{"s1":5840,"s2":4.44,"t":3.0},{"s1":5990,"s2":4.43,"t":3.0},{"s1":6100,"s2":4.42,"t":3.0},{"s1":6220,"s2":4.41,"t":3.0},{"s1":6525,"s2":4.47,"t":3.0},{"s1":6480,"s2":4.44,"t":3.0},{"s1":6650,"s2":4.42,"t":3.0},{"s1":6810,"s2":4.45,"t":3.1},{"s1":7055,"s2":4.49,"t":3.3},{"s1":6500,"s2":4.38,"t":3.0},{"s1":6170,"s2":4.37,"t":3.0},{"s1":5800,"s2":4.40,"t":3.05},{"s1":5720,"s2":4.46,"t":3.05},{"s1":5900,"s2":4.38,"t":3.05},
{"s1":7151,"s2":4.84,"t":3.3},{"s1":7400,"s2":4.82,"t":3.3},{"s1":7670,"s2":4.79,"t":3.3},{"s1":7830,"s2":4.79,"t":3.3},{"s1":7500,"s2":4.65,"t":3.3},{"s1":7470,"s2":4.57,"t":3.3},{"s1":7510,"s2":4.545,"t":3.3},{"s1":8000,"s2":4.62,"t":3.3},{"s1":8670,"s2":4.62,"t":3.3},{"s1":8945,"s2":4.60,"t":3.3},{"s1":9090,"s2":4.63,"t":3.3},{"s1":9390,"s2":4.84,"t":3.3},{"s1":9475,"s2":4.75,"t":3.3},{"s1":9930,"s2":4.87,"t":2.3},{"s1":10130,"s2":4.69,"t":3.3},{"s1":10375,"s2":4.64,"t":3.3},{"s1":10590,"s2":4.69,"t":3.3},{"s1":9945,"s2":4.50,"t":3.3},{"s1":10660,"s2":4.50,"t":3.3},{"s1":11105,"s2":4.53,"t":3.3},{"s1":11550,"s2":4.49,"t":3.3},{"s1":10850,"s2":4.46,"t":3.35},{"s1":12065,"s2":4.62,"t":3.3},{"s1":12910,"s2":4.62,"t":3.3},{"s1":13020,"s2":4.53,"t":2.4},
{"s1":7400,"s2":4.39,"t":2.4},{"s1":7585,"s2":4.33,"t":3.3},{"s1":7010,"s2":4.33,"t":2.3},{"s1":6840,"s2":4.32,"t":1.6},{"s1":6655,"s2":4.28,"t":2.3},{"s1":6170,"s2":4.26,"t":2.3},{"s1":6180,"s2":4.23,"t":2.5},{"s1":5553,"s2":4.25,"t":1.7},{"s1":7285,"s2":4.29,"t":2.9},{"s1":7210,"s2":4.25,"t":2.0},{"s1":7900,"s2":4.37,"t":2.4},{"s1":8185,"s2":4.37,"t":2.4},{"s1":8260,"s2":4.34,"t":2.5},{"s1":8440,"s2":4.34,"t":2.4},{"s1":8530,"s2":4.41,"t":2.1},{"s1":8870,"s2":4.43,"t":2.3},{"s1":8500,"s2":4.26,"t":2.2},{"s1":8600,"s2":4.25,"t":2.3},{"s1":7785,"s2":4.22,"t":2.0},{"s1":8260,"s2":4.19,"t":1.6},{"s1":8640,"s2":4.18,"t":1.9},{"s1":8770,"s2":4.22,"t":1.7},{"s1":8915,"s2":4.22,"t":1.8},{"s1":9160,"s2":4.36,"t":2.4},{"s1":9315,"s2":4.40,"t":2.3},{"s1":9460,"s2":4.40,"t":2.2},{"s1":9515,"s2":4.41,"t":2.1},{"s1":9445,"s2":4.35,"t":1.4},{"s1":9660,"s2":4.37,"t":2.4},{"s1":9730,"s2":4.36,"t":2.3},{"s1":9775,"s2":4.34,"t":2.5},{"s1":9360,"s2":4.30,"t":2.4},{"s1":9500,"s2":4.25,"t":2.0},{"s1":9500,"s2":4.23,"t":2.1},{"s1":9860,"s2":4.41,"t":2.3},{"s1":9800,"s2":4.32,"t":2.0},{"s1":9960,"s2":4.32,"t":2.1},{"s1":10030,"s2":4.33,"t":2.0},
{"s1":6483,"s2":4.11,"t":1.6},{"s1":5720,"s2":4.03,"t":2.3},{"s1":8892,"s2":3.93,"t":3.3},
{"s1":9630,"s2":4.376,"t":2.4},{"s1":9845,"s2":4.41,"t":2.3},{"s1":10175,"s2":4.43,"t":2.4},{"s1":10375,"s2":4.47,"t":2.8},{"s1":10490,"s2":4.42,"t":2.8},{"s1":10590,"s2":4.42,"t":2.7},{"s1":10660,"s2":4.40,"t":2.8},{"s1":10820,"s2":4.46,"t":3.3},{"s1":10990,"s2":4.40,"t":2.0},{"s1":11130,"s2":4.44,"t":2.8},{"s1":11320,"s2":4.44,"t":2.4},{"s1":11350,"s2":4.43,"t":2.3},{"s1":11520,"s2":4.41,"t":2.8},
{"s1":9745,"s2":4.32,"t":2.3},{"s1":9990,"s2":4.34,"t":2.0},{"s1":10230,"s2":4.37,"t":2.5},{"s1":10320,"s2":4.34,"t":2.4},{"s1":10490,"s2":4.34,"t":2.3},{"s1":10560,"s2":4.38,"t":2.8},{"s1":10675,"s2":4.34,"t":2.4},{"s1":10800,"s2":4.33,"t":2.0},{"s1":10890,"s2":4.37,"t":2.4},{"s1":11035,"s2":4.38,"t":2.7},{"s1":11180,"s2":4.37,"t":2.0},{"s1":11280,"s2":4.34,"t":2.3},{"s1":11465,"s2":4.36,"t":2.0},{"s1":11565,"s2":4.38,"t":2.7},{"s1":11730,"s2":4.34,"t":1.9},{"s1":11800,"s2":4.37,"t":1.7},
{"s1":10160,"s2":4.29,"t":1.6},{"s1":10275,"s2":4.30,"t":2.0},{"s1":10390,"s2":4.27,"t":1.5},{"s1":10515,"s2":4.30,"t":1.9},{"s1":10660,"s2":4.26,"t":3.3},{"s1":10750,"s2":4.29,"t":1.5},{"s1":10890,"s2":4.30,"t":2.0},{"s1":10990,"s2":4.27,"t":1.6},{"s1":11130,"s2":4.29,"t":2.0},{"s1":11230,"s2":4.30,"t":1.6},{"s1":11375,"s2":4.27,"t":3.3},{"s1":11465,"s2":4.29,"t":1.6},{"s1":11565,"s2":4.29,"t":3.3},{"s1":11660,"s2":4.27,"t":1.5},{"s1":11730,"s2":4.30,"t":1.6},
{"s1":10275,"s2":4.25,"t":2.0},{"s1":10460,"s2":4.22,"t":1.5},{"s1":10560,"s2":4.21,"t":1.5},{"s1":10700,"s2":4.23,"t":1.6},{"s1":10945,"s2":4.23,"t":2.0},{"s1":11300,"s2":4.21,"t":2.8},{"s1":11130,"s2":4.24,"t":1.6},
{"s1":10100,"s2":4.36,"t":2.3},{"s1":10400,"s2":4.40,"t":2.6},{"s1":10700,"s2":4.37,"t":2.2},{"s1":11000,"s2":4.34,"t":2.3},{"s1":11300,"s2":4.31,"t":1.8},{"s1":11600,"s2":4.33,"t":2.1},{"s1":10050,"s2":4.26,"t":1.7},{"s1":10600,"s2":4.26,"t":1.6},{"s1":10850,"s2":4.24,"t":1.8},{"s1":11050,"s2":4.31,"t":1.9},{"s1":11400,"s2":4.40,"t":2.5},{"s1":10000,"s2":4.40,"t":2.6},{"s1":10300,"s2":4.45,"t":2.7},{"s1":10950,"s2":4.45,"t":2.6},{"s1":11200,"s2":4.41,"t":2.4},{"s1":11700,"s2":4.40,"t":2.5},{"s1":10420,"s2":4.31,"t":1.8},{"s1":10930,"s2":4.28,"t":1.5},{"s1":11250,"s2":4.26,"t":1.7},{"s1":11500,"s2":4.25,"t":1.8},{"s1":10620,"s2":4.44,"t":2.7},
{"s1":12275,"s2":4.46,"t":3.3},{"s1":12445,"s2":4.44,"t":2.3},{"s1":12735,"s2":4.47,"t":2.8},{"s1":12895,"s2":4.45,"t":2.4},{"s1":12970,"s2":4.44,"t":2.8},{"s1":13060,"s2":4.44,"t":2.3},{"s1":13420,"s2":4.46,"t":3.2},{"s1":13520,"s2":4.43,"t":2.8},{"s1":13660,"s2":4.43,"t":2.7},{"s1":12420,"s2":4.38,"t":2.0},{"s1":12565,"s2":4.36,"t":2.1},{"s1":12680,"s2":4.38,"t":2.3},{"s1":12880,"s2":4.42,"t":2.8},{"s1":13020,"s2":4.38,"t":2.0},{"s1":12920,"s2":4.35,"t":2.1},{"s1":13180,"s2":4.40,"t":2.4},{"s1":13250,"s2":4.38,"t":2.4},{"s1":13320,"s2":4.38,"t":2.3},{"s1":13380,"s2":4.38,"t":2.0},{"s1":13640,"s2":4.36,"t":2.3},{"s1":12520,"s2":4.295,"t":1.6},{"s1":12665,"s2":4.295,"t":1.6},{"s1":13120,"s2":4.315,"t":1.5},
{"s1":10515,"s2":3.99,"t":1.5},{"s1":10790,"s2":4.03,"t":1.6},{"s1":10945,"s2":4.00,"t":2.3},{"s1":10990,"s2":3.99,"t":2.3},{"s1":10130,"s2":3.97,"t":2.3},{"s1":10360,"s2":3.94,"t":2.4},{"s1":9745,"s2":3.85,"t":3.3},{"s1":10260,"s2":3.83,"t":2.4},
{"s1":6960,"s2":2.856,"t":1.7},{"s1":5220,"s2":2.485,"t":2.0},{"s1":5610,"s2":2.41,"t":1.7},{"s1":7815,"s2":2.27,"t":3.3},{"s1":8700,"s2":2.155,"t":3.3},{"s1":9245,"s2":2.095,"t":2.6},{"s1":9945,"s2":2.145,"t":3.3},{"s1":10575,"s2":2.02,"t":3.3},{"s1":10775,"s2":2.06,"t":3.2},{"s1":4905,"s2":2.055,"t":3.2},{"s1":5180,"s2":2.01,"t":3.2},{"s1":6080,"s2":2.10,"t":3.2},{"s1":6180,"s2":2.055,"t":3.2},{"s1":7385,"s2":2.035,"t":3.3},{"s1":9920,"s2":2.33,"t":3.2},
{"s1":845,"s2":2.96,"t":1.6},{"s1":470,"s2":2.565,"t":1.5},{"s1":1360,"s2":2.555,"t":1.7},{"s1":1360,"s2":2.525,"t":1.6},{"s1":515,"s2":2.46,"t":1.5},{"s1":230,"s2":2.42,"t":1.7},{"s1":1845,"s2":2.455,"t":1.6},{"s1":185,"s2":2.24,"t":2.4},{"s1":690,"s2":2.215,"t":2.0},{"s1":1500,"s2":2.25,"t":1.6},{"s1":215,"s2":2.16,"t":1.5},{"s1":185,"s2":2.145,"t":1.5},{"s1":1230,"s2":2.165,"t":2.5},{"s1":875,"s2":2.135,"t":2.0},{"s1":1075,"s2":2.11,"t":1.7},{"s1":185,"s2":2.08,"t":2.1},{"s1":360,"s2":2.015,"t":1.6}
]},
"hconcat":[
{
"width":1118,"height":870,
"resolve":{"scale":{"x":"independent","y":"independent"},"axis":{"x":"independent","y":"independent"}},
"layer":[
{
"resolve":{"axis":{"x":"independent","y":"independent"}},
"layer":[
{"data":{"name":"pts"},
"transform":[{"filter":"datum.s2 <= 5.5"}],
"mark":{"type":"circle","size":85,"opacity":1,"clip":true},
"encoding":{
"x":{"field":"s1","type":"quantitative","scale":{"domain":[0,16000],"nice":false,"zero":false},
"axis":{"orient":"bottom","values":[0,2000,4000,6000,8000,10000,12000,14000,16000],"format":"d","labelFontSize":35,"tickSize":-8,"tickWidth":2,"labelPadding":14,"labelFlush":false,"labelOverlap":false,"title":"S1 (phd)","titleFontSize":35,"titlePadding":13}},
"y":{"field":"s2","type":"quantitative","scale":{"domain":[2,5.5407],"nice":false,"zero":false},
"axis":{"orient":"left","values":[2,2.5,3,3.5,4,4.5,5,5.5],"format":".1f","labelFontSize":34,"tickSize":-8,"tickWidth":2,"labelPadding":20,"labelFlush":false,"labelOverlap":false,"title":"log₁₀[ S2 (phd) ]","titleFontSize":34,"titlePadding":16}},
"color":{"field":"t","type":"quantitative","scale":{"scheme":"viridis","reverse":true,"domain":[1.378,3.39]},"legend":null}}},
{"data":{"name":"arrows"},
"mark":{"type":"point","opacity":0},
"encoding":{
"x":{"field":"x","type":"quantitative","scale":{"domain":[0,16000],"nice":false,"zero":false},
"axis":{"orient":"bottom","values":[500,1000,1500,2500,3000,3500,4500,5000,5500,6500,7000,7500,8500,9000,9500,10500,11000,11500,12500,13000,13500,14500,15000,15500],"labels":false,"tickSize":-4,"tickWidth":1.5,"title":null}},
"y":{"field":"y","type":"quantitative","scale":{"domain":[2,5.5407],"nice":false,"zero":false},
"axis":{"orient":"left","values":[2.1,2.2,2.3,2.4,2.6,2.7,2.8,2.9,3.1,3.2,3.3,3.4,3.6,3.7,3.8,3.9,4.1,4.2,4.3,4.4,4.6,4.7,4.8,4.9,5.1,5.2,5.3,5.4],"labels":false,"tickSize":-4,"tickWidth":1.5,"title":null}}}},
{"data":{"values":[{}]},
"mark":{"type":"rect","filled":false,"stroke":"#1a1a1a","strokeWidth":2},
"encoding":{
"x":{"datum":0,"type":"quantitative","scale":{"domain":[0,16000],"nice":false,"zero":false},"axis":null},
"x2":{"datum":16000},
"y":{"datum":2,"type":"quantitative","scale":{"domain":[2,5.5407],"nice":false,"zero":false},"axis":null},
"y2":{"datum":5.5}}},
{"data":{"name":"arrows"},
"mark":{"type":"rule","color":"#1a1a1a","strokeWidth":2},
"encoding":{
"x":{"field":"x","type":"quantitative","scale":{"domain":[0,16000],"nice":false,"zero":false},"axis":null},
"y":{"field":"y","type":"quantitative","scale":{"domain":[2,5.5407],"nice":false,"zero":false},"axis":null},
"x2":{"field":"hx"},"y2":{"field":"hy"}}},
{"data":{"name":"arrows"},"transform":[{"filter":"datum.name === 'po'"}],
"mark":{"type":"point","shape":"M-0.5,1L0,0L0.5,1","size":784,"filled":false,"stroke":"#1a1a1a","strokeWidth":2,"opacity":1,"angle":354},
"encoding":{
"x":{"field":"hx","type":"quantitative","scale":{"domain":[0,16000],"nice":false,"zero":false},"axis":null},
"y":{"field":"hy","type":"quantitative","scale":{"domain":[2,5.5407],"nice":false,"zero":false},"axis":null}}},
{"data":{"name":"arrows"},"transform":[{"filter":"datum.name === 'rn'"}],
"mark":{"type":"point","shape":"M-0.5,1L0,0L0.5,1","size":784,"filled":false,"stroke":"#1a1a1a","strokeWidth":2,"opacity":1,"angle":346},
"encoding":{
"x":{"field":"hx","type":"quantitative","scale":{"domain":[0,16000],"nice":false,"zero":false},"axis":null},
"y":{"field":"hy","type":"quantitative","scale":{"domain":[2,5.5407],"nice":false,"zero":false},"axis":null}}},
{"data":{"values":[{"x":15814,"y":5.248,"label":"crystal/vapor xenon"}]},
"mark":{"type":"text","align":"right","baseline":"alphabetic","font":"DejaVu Sans","fontSize":37,"color":"#1a1a1a"},
"encoding":{"x":{"field":"x","type":"quantitative","scale":{"domain":[0,16000],"nice":false,"zero":false},"axis":null},"y":{"field":"y","type":"quantitative","scale":{"domain":[2,5.5407],"nice":false,"zero":false},"axis":null},"text":{"field":"label"}}},
{"data":{"values":[{"x":358,"y":5.142,"label":"β/γ"}]},
"mark":{"type":"text","align":"left","baseline":"alphabetic","font":"DejaVu Sans","fontStyle":"italic","fontSize":36,"color":"#1a1a1a"},
"encoding":{"x":{"field":"x","type":"quantitative","scale":{"domain":[0,16000],"nice":false,"zero":false},"axis":null},"y":{"field":"y","type":"quantitative","scale":{"domain":[2,5.5407],"nice":false,"zero":false},"axis":null},"text":{"field":"label"}}},
{"data":{"values":[{"x":5170,"y":3.674,"label":"²¹⁰Po α"},{"x":5224,"y":3.506,"label":"(on cathode)"},{"x":12322,"y":3.608,"label":"energy scale (keV)"}]},
"mark":{"type":"text","align":"center","baseline":"alphabetic","font":"DejaVu Sans","fontSize":37,"color":"#1a1a1a"},
"encoding":{"x":{"field":"x","type":"quantitative","scale":{"domain":[0,16000],"nice":false,"zero":false},"axis":null},"y":{"field":"y","type":"quantitative","scale":{"domain":[2,5.5407],"nice":false,"zero":false},"axis":null},"text":{"field":"label"}}},
{"data":{"values":[{"x":13181,"y":3.848,"label":"Rn chain"}]},
"mark":{"type":"text","align":"center","baseline":"alphabetic","font":"Lato","fontSize":43,"color":"#000000"},
"encoding":{"x":{"field":"x","type":"quantitative","scale":{"domain":[0,16000],"nice":false,"zero":false},"axis":null},"y":{"field":"y","type":"quantitative","scale":{"domain":[2,5.5407],"nice":false,"zero":false},"axis":null},"text":{"field":"label"}}}
]},
{
"layer":[
{"data":{"values":[{}]},
"mark":{"type":"rect","fill":"white","stroke":"#1a1a1a","strokeWidth":2},
"encoding":{
"x":{"datum":4670,"type":"quantitative","scale":{"domain":[-945.6,8314.3],"nice":false,"zero":false},"axis":null},
"x2":{"datum":7660},
"y":{"datum":0,"type":"quantitative","scale":{"domain":[-8.24,63.48],"nice":false,"zero":false},"axis":null},
"y2":{"datum":23}}},
{"data":{"name":"hist"},
"mark":{"type":"line","interpolate":"step-after","color":"#1a1a1a","strokeWidth":2},
"encoding":{
"x":{"field":"e","type":"quantitative","scale":{"domain":[-945.6,8314.3],"nice":false,"zero":false},"axis":null},
"y":{"field":"n","type":"quantitative","scale":{"domain":[-8.24,63.48],"nice":false,"zero":false},"axis":null},
"order":{"field":"k","type":"quantitative"}}},
{"data":{"name":"ixt"},
"mark":{"type":"point","shape":"M0,0L0,-1","size":144,"filled":false,"stroke":"#1a1a1a","strokeWidth":1.5,"opacity":1},
"encoding":{
"x":{"field":"v","type":"quantitative","scale":{"domain":[-945.6,8314.3],"nice":false,"zero":false},"axis":null},
"y":{"datum":0,"type":"quantitative","scale":{"domain":[-8.24,63.48],"nice":false,"zero":false},"axis":null}}},
{"data":{"name":"ixt"},
"mark":{"type":"text","align":"center","baseline":"top","dy":8,"font":"DejaVu Sans","fontSize":35,"color":"#1a1a1a"},
"encoding":{
"x":{"field":"v","type":"quantitative","scale":{"domain":[-945.6,8314.3],"nice":false,"zero":false},"axis":null},
"y":{"datum":0,"type":"quantitative","scale":{"domain":[-8.24,63.48],"nice":false,"zero":false},"axis":null},
"text":{"field":"v","type":"quantitative","format":"d"}}},
{"data":{"name":"iyt"},
"mark":{"type":"point","shape":"M0,0L1,0","size":144,"filled":false,"stroke":"#1a1a1a","strokeWidth":1.5,"opacity":1},
"encoding":{
"x":{"datum":4670,"type":"quantitative","scale":{"domain":[-945.6,8314.3],"nice":false,"zero":false},"axis":null},
"y":{"field":"v","type":"quantitative","scale":{"domain":[-8.24,63.48],"nice":false,"zero":false},"axis":null}}},
{"data":{"name":"iyt"},
"mark":{"type":"text","align":"right","baseline":"middle","dx":-13,"font":"DejaVu Sans","fontSize":35,"color":"#1a1a1a"},
"encoding":{
"x":{"datum":4670,"type":"quantitative","scale":{"domain":[-945.6,8314.3],"nice":false,"zero":false},"axis":null},
"y":{"field":"v","type":"quantitative","scale":{"domain":[-8.24,63.48],"nice":false,"zero":false},"axis":null},
"text":{"field":"v","type":"quantitative","format":"d"}}}
]}
]},
{
"width":42,"height":870,
"data":{"values":[{"lo":1.378,"hi":3.39}]},
"mark":{"type":"rect","stroke":"#1a1a1a","strokeWidth":2,"color":{"gradient":"linear","x1":0,"y1":1,"x2":0,"y2":0,"stops":[{"offset":0,"color":"#440154"},{"offset":0.1,"color":"#482475"},{"offset":0.2,"color":"#414487"},{"offset":0.3,"color":"#355f8d"},{"offset":0.4,"color":"#2a788e"},{"offset":0.5,"color":"#21918c"},{"offset":0.6,"color":"#22a884"},{"offset":0.7,"color":"#44bf70"},{"offset":0.8,"color":"#7ad151"},{"offset":0.9,"color":"#bddf26"},{"offset":1,"color":"#fde725"}]}},
"encoding":{
"y":{"field":"lo","type":"quantitative","scale":{"domain":[1.378,3.39],"reverse":true,"nice":false,"zero":false},
"axis":{"orient":"right","values":[1.6,2.0,2.4,2.8,3.2],"format":".1f","labelFontSize":34,"tickSize":-7,"tickWidth":1.5,"labelPadding":19,"labelFlush":false,"title":"electron drift time (μs)","titleFontSize":31,"titleAngle":-90,"titleBaseline":"top","titlePadding":20}},
"y2":{"field":"hi"}}}
],
"spacing":15
}
